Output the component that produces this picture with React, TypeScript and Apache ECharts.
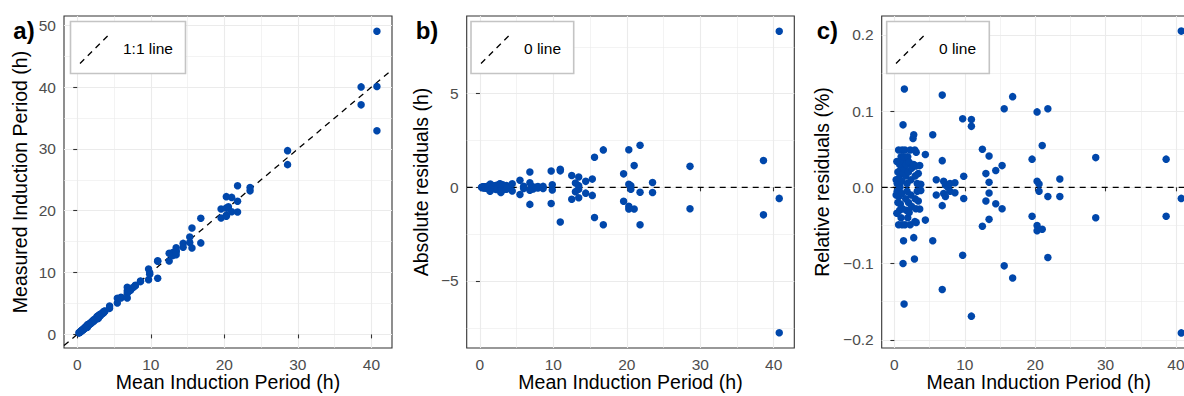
import React, { useEffect, useRef } from "react";
import * as echarts from "echarts";

// Shared x values (mean induction period, h)
const meanIP = [
  0.25, 0.25, 0.35, 0.35, 0.4, 0.4, 0.5, 0.5, 0.6, 0.6,
  0.65, 0.65, 0.75, 0.75, 0.8, 0.85, 0.85, 0.95, 0.95, 1.05,
  1.05, 1.1, 1.1, 1.15, 1.15, 1.23, 1.23, 1.23, 1.3, 1.32,
  1.3, 1.42, 1.42, 1.38, 1.5, 1.5, 1.6, 1.6, 1.7, 1.7,
  1.8, 1.8, 1.9, 1.9, 2.0, 2.0, 2.1, 2.1, 2.25, 2.25,
  2.35, 2.35, 2.45, 2.45, 2.65, 2.75, 2.75, 2.75, 2.85, 2.9,
  2.9, 2.95, 2.95, 3.05, 3.05, 3.1, 3.1, 3.25, 3.25, 3.4,
  3.4, 3.6, 3.6, 3.75, 3.75, 4.4, 4.4,
  5.45, 5.45, 5.95, 5.95, 6.8, 6.8, 6.8, 6.8, 7.0, 7.0,
  7.25, 7.25, 7.6, 7.9, 7.9, 8.6, 8.6, 9.7, 9.7, 9.85,
  9.85, 10.94, 10.94, 10.94, 12.5, 12.5, 13.0, 13.0, 13.45, 13.45,
  13.45, 13.45, 14.4, 14.4, 15.3, 15.3, 15.6, 15.6, 16.8, 16.8,
  19.56, 19.56, 20.27, 20.27, 20.27, 20.27, 20.55, 20.55, 21.0, 21.0,
  21.8, 21.8, 21.8, 23.5, 23.5, 28.6, 28.6, 38.6, 38.6, 40.75,
  40.75, 40.75,
];

// Panel a: measured induction period (h)
const measured = [
  0.25, 0.25, 0.36, 0.34, 0.4, 0.4, 0.51, 0.49, 0.63, 0.57,
  0.66, 0.64, 0.77, 0.73, 0.8, 0.87, 0.83, 0.99, 0.91, 1.06,
  1.04, 1.15, 1.05, 1.18, 1.12, 1.33, 1.25, 1.11, 1.35, 1.37,
  1.21, 1.6, 1.45, 1.17, 1.57, 1.43, 1.62, 1.58, 1.75, 1.65,
  1.81, 1.79, 1.98, 1.82, 2.04, 1.96, 2.17, 2.03, 2.36, 2.14,
  2.37, 2.33, 2.51, 2.39, 2.82, 2.94, 2.83, 2.57, 2.58, 3.04,
  2.77, 2.99, 2.91, 3.14, 2.96, 3.24, 2.96, 3.27, 3.23, 3.46,
  3.34, 3.7, 3.5, 3.77, 3.73, 4.59, 4.21,
  5.83, 5.07, 6.01, 5.89, 7.62, 7.04, 6.64, 5.89, 7.06, 6.94,
  7.27, 7.16, 7.6, 7.94, 7.86, 8.65, 8.54, 10.57, 8.84, 9.99,
  9.71, 11.91, 11.82, 9.09, 13.13, 11.86, 13.23, 12.77, 14.0, 13.54,
  13.35, 12.89, 14.72, 14.09, 15.74, 14.87, 17.21, 13.99, 18.8, 14.8,
  20.28, 18.82, 22.28, 20.43, 19.26, 19.11, 20.64, 20.45, 22.16, 19.84,
  24.05, 21.54, 19.8, 23.76, 23.22, 29.72, 27.46, 40.03, 37.13, 49.04,
  40.11, 32.93,
];

// Panel b: absolute residuals (h)
const absResid = [
  0.0, 0.0, 0.01, -0.01, 0.0, 0.0, 0.01, -0.01, 0.03, -0.03,
  0.01, -0.01, 0.02, -0.02, 0.0, 0.02, -0.02, 0.04, -0.04, 0.01,
  -0.01, 0.05, -0.05, 0.03, -0.03, 0.1, 0.02, -0.12, 0.05, 0.05,
  -0.09, 0.18, 0.03, -0.21, 0.07, -0.07, 0.02, -0.02, 0.05, -0.05,
  0.01, -0.01, 0.08, -0.08, 0.04, -0.04, 0.07, -0.07, 0.11, -0.11,
  0.02, -0.02, 0.06, -0.06, 0.17, 0.19, 0.08, -0.18, -0.27, 0.14,
  -0.13, 0.04, -0.04, 0.09, -0.09, 0.14, -0.14, 0.02, -0.02, 0.06,
  -0.06, 0.1, -0.1, 0.02, -0.02, 0.19, -0.19,
  0.38, -0.38, 0.06, -0.06, 0.82, 0.24, -0.16, -0.91, 0.06, -0.06,
  0.02, -0.09, 0.0, 0.04, -0.04, 0.05, -0.06, 0.87, -0.86, 0.14,
  -0.14, 0.97, 0.88, -1.85, 0.63, -0.64, 0.23, -0.23, 0.55, 0.09,
  -0.1, -0.56, 0.32, -0.31, 0.44, -0.43, 1.61, -1.61, 2.0, -2.0,
  0.72, -0.74, 2.01, 0.16, -1.01, -1.16, 0.09, -0.1, 1.16, -1.16,
  2.25, -0.26, -2.0, 0.26, -0.28, 1.12, -1.14, 1.43, -1.47, 8.34,
  -0.59, -7.77,
];

// Panel c: relative residuals
const relResid = [
  0.01, -0.01, 0.034, -0.034, 0.005, -0.005, 0.02, -0.02, 0.049, -0.049,
  0.012, -0.012, 0.03, -0.03, 0.0, 0.022, -0.022, 0.04, -0.04, 0.008,
  -0.008, 0.049, -0.049, 0.028, -0.028, 0.082, 0.018, -0.1, 0.035, 0.04,
  -0.07, 0.129, 0.024, -0.153, 0.049, -0.049, 0.015, -0.015, 0.03, -0.03,
  0.005, -0.005, 0.04, -0.04, 0.02, -0.02, 0.033, -0.033, 0.049, -0.049,
  0.01, -0.01, 0.025, -0.025, 0.064, 0.069, 0.03, -0.066, -0.094, 0.049,
  -0.045, 0.015, -0.015, 0.028, -0.028, 0.046, -0.046, 0.005, -0.005, 0.018,
  -0.018, 0.0285, -0.0285, 0.004, -0.004, 0.043, -0.043,
  0.069, -0.07, 0.01, -0.01, 0.121, 0.035, -0.024, -0.134, 0.008, -0.008,
  0.003, -0.012, 0.0, 0.005, -0.005, 0.006, -0.007, 0.09, -0.089, 0.0145,
  -0.0146, 0.089, 0.08, -0.169, 0.05, -0.051, 0.018, -0.018, 0.041, 0.0066,
  -0.0074, -0.042, 0.022, -0.0215, 0.0285, -0.028, 0.103, -0.103, 0.119, -0.119,
  0.037, -0.038, 0.099, 0.008, -0.05, -0.057, 0.0045, -0.005, 0.055, -0.055,
  0.103, -0.012, -0.092, 0.011, -0.012, 0.039, -0.04, 0.037, -0.038, 0.205,
  -0.0145, -0.191,
];

// Axis ranges and tick values
const xRange = [-1.8, 42.8];
const aRange = [-2.2, 51.5];
const bRange = [-8.58, 9.15];
const cRange = [-0.2108, 0.2248];
const xTicks = [0, 10, 20, 30, 40];
const xMinor = [5, 15, 25, 35];
const aTicks = [0, 10, 20, 30, 40, 50];
const aMinor = [5, 15, 25, 35, 45];
const bTicks = [-5, 0, 5];
const bMinor = [-7.5, -2.5, 2.5, 7.5];
const cTicks = [-0.2, -0.1, 0, 0.1, 0.2];
const cMinor = [-0.15, -0.05, 0.05, 0.15];

const xTitle = "Mean Induction Period (h)";
const yTitles = ["Measured Induction Period (h)", "Absolute residuals (h)", "Relative residuals (%)"];
const tags = ["a)", "b)", "c)"];
const legendLabels = ["1:1 line", "0 line", "0 line"];

const FONT = "'Liberation Sans', Arial, Helvetica, sans-serif";
const DOT = "#0047AB";
const GRID_C = "#EBEBEB";

export default function App() {
  const ref = useRef<HTMLDivElement>(null);
  useEffect(() => {
    if (!ref.current) return;
    const chart = echarts.init(ref.current, null, { renderer: "svg" });

    const grids = [
      { left: 64, top: 16, width: 328, height: 332 },
      { left: 466.7, top: 16, width: 327.6, height: 332 },
      { left: 881.7, top: 16, width: 314, height: 332 },
    ].map((g) => ({
      ...g,
      show: true,
      backgroundColor: "#ffffff",
      borderColor: "#333333",
      borderWidth: 1.1,
      containLabel: false,
      outerBoundsMode: "none",
    }));

    const minus = (s: string) => s.replace("-", "\u2212");
    const fmts = [
      (v: number) => minus(String(v)),
      (v: number) => minus(String(v)),
      (v: number) => minus(v.toFixed(1)),
    ];
    const yRanges = [aRange, bRange, cRange];
    const yMajors = [aTicks, bTicks, cTicks];
    const yMinors = [aMinor, bMinor, cMinor];
    const yGaps = [34, 35.5, 49.5];

    const xAxes: any[] = [];
    const yAxes: any[] = [];
    for (let i = 0; i < 3; i++) {
      xAxes.push({
        type: "value",
        gridIndex: i,
        min: xRange[0],
        max: xRange[1],
        axisLine: { show: false },
        axisTick: { show: true, length: 4, customValues: xTicks, lineStyle: { color: "#333333", width: 1.1 } },
        axisLabel: {
          show: true,
          customValues: xTicks,
          margin: 8,
          color: "#4D4D4D",
          fontSize: 15.5,
          fontFamily: FONT,
          formatter: (v: number) => minus(String(v)),
        },
        splitLine: { show: true, lineStyle: { color: GRID_C, width: 1.1 } },
        name: xTitle,
        nameLocation: "middle",
        nameGap: 24,
        nameMoveOverlap: false,
        nameTextStyle: { color: "#000000", fontSize: 19.5, lineHeight: 20, fontFamily: FONT },
        z: 1,
      });
      xAxes.push({
        type: "value",
        gridIndex: i,
        min: xRange[0],
        max: xRange[1],
        axisLine: { show: false },
        axisTick: { show: false, customValues: xMinor },
        axisLabel: { show: false, customValues: xMinor },
        splitLine: { show: true, lineStyle: { color: GRID_C, width: 0.6 } },
        z: 0,
      });
      yAxes.push({
        type: "value",
        gridIndex: i,
        min: yRanges[i][0],
        max: yRanges[i][1],
        axisLine: { show: false },
        axisTick: { show: true, length: 4, customValues: yMajors[i], lineStyle: { color: "#333333", width: 1.1 } },
        axisLabel: {
          show: true,
          customValues: yMajors[i],
          margin: 8,
          color: "#4D4D4D",
          fontSize: 15.5,
          fontFamily: FONT,
          formatter: fmts[i],
        },
        splitLine: { show: true, lineStyle: { color: GRID_C, width: 1.1 } },
        name: yTitles[i],
        nameLocation: "middle",
        nameGap: yGaps[i],
        nameMoveOverlap: false,
        nameTextStyle: { color: "#000000", fontSize: 19.5, fontFamily: FONT },
        z: 1,
      });
      yAxes.push({
        type: "value",
        gridIndex: i,
        min: yRanges[i][0],
        max: yRanges[i][1],
        axisLine: { show: false },
        axisTick: { show: false, customValues: yMinors[i] },
        axisLabel: { show: false, customValues: yMinors[i] },
        splitLine: { show: true, lineStyle: { color: GRID_C, width: 0.6 } },
        z: 0,
      });
    }

    const ys = [measured, absResid, relResid];
    const refLines = [
      [[xRange[0], xRange[0]], [xRange[1], xRange[1]]],
      [[xRange[0], 0], [xRange[1], 0]],
      [[xRange[0], 0], [xRange[1], 0]],
    ];
    const series: any[] = [];
    for (let i = 0; i < 3; i++) {
      series.push({
        type: "line",
        xAxisIndex: i * 2,
        yAxisIndex: i * 2,
        data: refLines[i],
        symbol: "none",
        silent: true,
        lineStyle: { color: "#000000", width: 1.3, type: [6, 5] },
        z: 2,
      });
      series.push({
        type: "scatter",
        xAxisIndex: i * 2,
        yAxisIndex: i * 2,
        data: meanIP.map((x, k) => [x, ys[i][k]]),
        symbol: "circle",
        symbolSize: 7.5,
        itemStyle: { color: DOT, opacity: 1 },
        z: 3,
      });
    }

    const legendBoxes = [
      { x: 70.5, w: 115, lx: 80 },
      { x: 471, w: 102.7, lx: 481 },
      { x: 886.7, w: 102.6, lx: 896 },
    ];
    const tagX = [13.3, 415.7, 816.7];
    const graphics: any[] = [];
    legendBoxes.forEach((b, i) => {
      graphics.push({
        type: "rect",
        shape: { x: b.x, y: 21.5, width: b.w, height: 52 },
        style: { fill: "#ffffff", stroke: "#C4C4C4", lineWidth: 1.6 },
        z: 10,
      });
      graphics.push({
        type: "line",
        shape: { x1: b.lx, y1: 63.5, x2: b.lx + 28, y2: 35.5 },
        style: { stroke: "#000000", lineWidth: 1.3, lineDash: [6, 5] },
        z: 11,
      });
      graphics.push({
        type: "text",
        x: b.lx + 43,
        y: 48,
        style: {
          text: legendLabels[i],
          fill: "#000000",
          font: `15.5px ${FONT}`,
          textVerticalAlign: "middle",
          textAlign: "left",
        },
        z: 11,
      });
      graphics.push({
        type: "text",
        x: tagX[i],
        y: 30,
        style: {
          text: tags[i],
          fill: "#000000",
          font: `bold 24px ${FONT}`,
          textVerticalAlign: "middle",
          textAlign: "left",
        },
        z: 11,
      });
    });

    chart.setOption({
      animation: false,
      backgroundColor: "#ffffff",
      grid: grids,
      xAxis: xAxes,
      yAxis: yAxes,
      series,
      graphic: graphics,
    });
    return () => chart.dispose();
  }, []);

  return (
    <div
      ref={ref}
      style={{ position: "fixed", left: 0, top: 0, width: 1184, height: 396, background: "#fff" }}
    />
  );
}
